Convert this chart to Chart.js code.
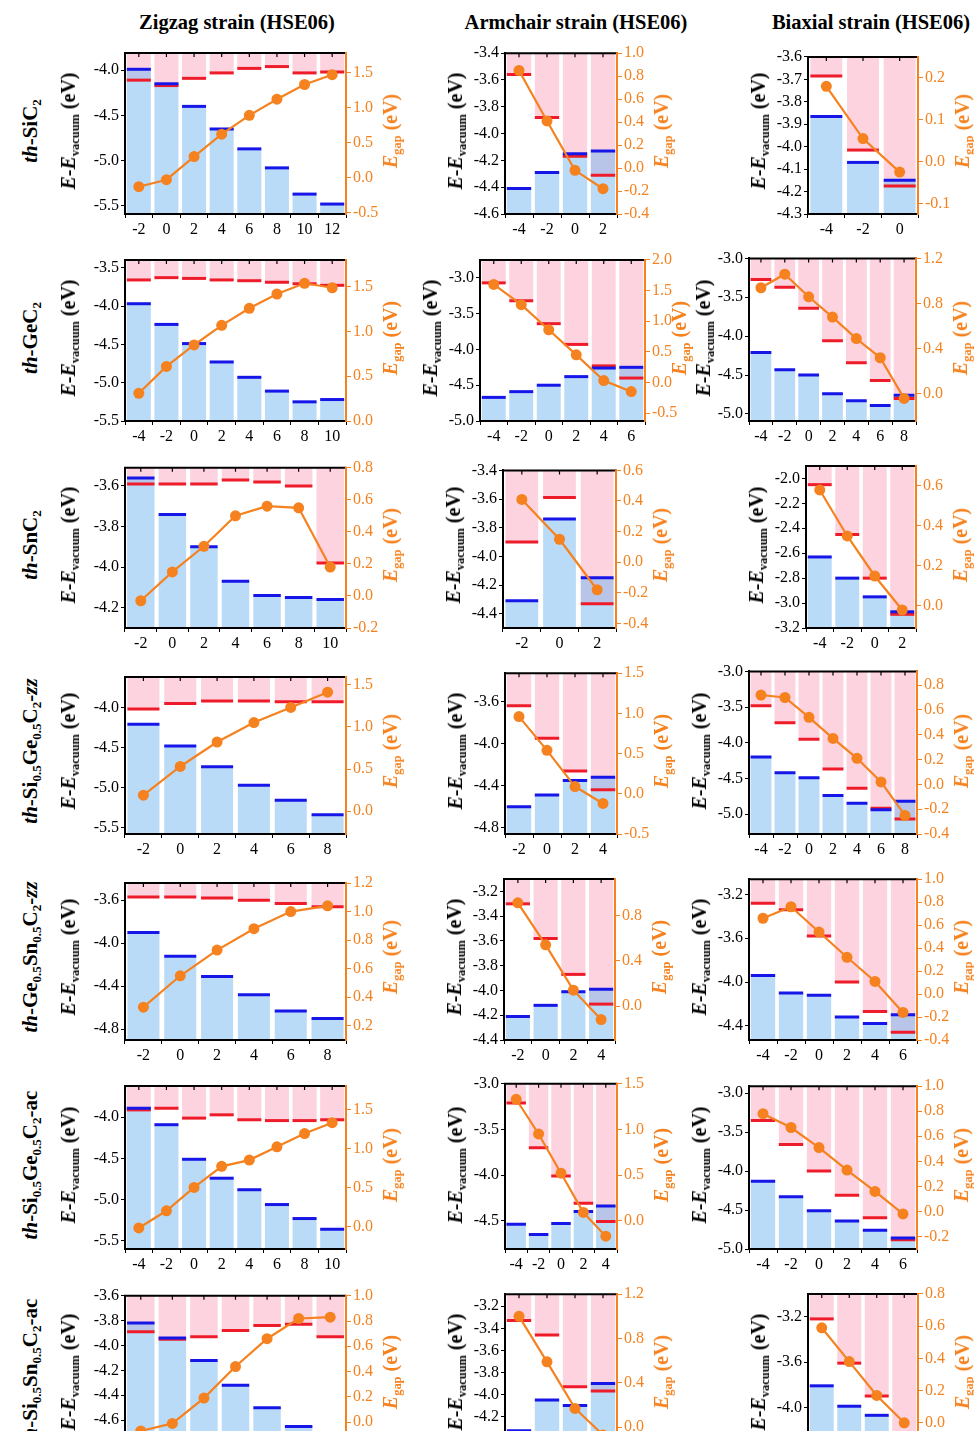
<!DOCTYPE html>
<html><head><meta charset="utf-8">
<script src="https://cdn.jsdelivr.net/npm/chart.js@4.4.0/dist/chart.umd.min.js"></script>
<style>
html,body{margin:0;padding:0;background:#fff;}
#page{position:relative;width:974px;height:1431px;overflow:hidden;font-family:'Liberation Serif','Times New Roman',serif;color:#000;}
.lbl{position:absolute;white-space:nowrap;font-weight:bold;transform:translate(-50%,-50%) rotate(-90deg);line-height:1;}
.ct{position:absolute;white-space:nowrap;font-weight:bold;font-size:20.5px;transform:translate(-50%,-50%);line-height:1;}
.s{font-size:0.62em;position:relative;top:0.32em;}
canvas{position:absolute;}
</style></head><body><div id="page"></div><script>
// ---------- DATA ----------
// th-SiC2
const SiC2_zz_strain = [-2, 0, 2, 4, 6, 8, 10, 12];
const SiC2_zz_vbm = [-3.99, -4.15, -4.40, -4.65, -4.87, -5.08, -5.37, -5.48];
const SiC2_zz_cbm = [-4.11, -4.17, -4.09, -4.03, -3.98, -3.96, -4.03, -4.02];
const SiC2_zz_gap = [-0.13, -0.03, 0.30, 0.62, 0.89, 1.12, 1.33, 1.47];
const SiC2_zz_yTicks = [-4.0, -4.5, -5.0, -5.5];
const SiC2_zz_gTicks = [-0.5, 0.0, 0.5, 1.0, 1.5];

const SiC2_ac_strain = [-4, -2, 0, 2];
const SiC2_ac_vbm = [-4.41, -4.29, -4.15, -4.13];
const SiC2_ac_cbm = [-3.56, -3.88, -4.17, -4.31];
const SiC2_ac_gap = [0.85, 0.41, -0.02, -0.18];
const SiC2_ac_yTicks = [-3.4, -3.6, -3.8, -4.0, -4.2, -4.4, -4.6];
const SiC2_ac_gTicks = [-0.4, -0.2, 0.0, 0.2, 0.4, 0.6, 0.8, 1.0];

const SiC2_bi_strain = [-4, -2, 0];
const SiC2_bi_vbm = [-3.865, -4.07, -4.15];
const SiC2_bi_cbm = [-3.685, -4.015, -4.175];
const SiC2_bi_gap = [0.18, 0.055, -0.025];
const SiC2_bi_yTicks = [-3.6, -3.7, -3.8, -3.9, -4.0, -4.1, -4.2, -4.3];
const SiC2_bi_gTicks = [-0.1, 0.0, 0.1, 0.2];

// th-GeC2
const GeC2_zz_strain = [-4, -2, 0, 2, 4, 6, 8, 10];
const GeC2_zz_vbm = [-3.97, -4.24, -4.49, -4.73, -4.93, -5.11, -5.25, -5.22];
const GeC2_zz_cbm = [-3.66, -3.63, -3.64, -3.66, -3.67, -3.69, -3.71, -3.73];
const GeC2_zz_gap = [0.31, 0.61, 0.85, 1.07, 1.26, 1.42, 1.54, 1.49];
const GeC2_zz_yTicks = [-3.5, -4.0, -4.5, -5.0, -5.5];
const GeC2_zz_gTicks = [0.0, 0.5, 1.0, 1.5];

const GeC2_ac_strain = [-4, -2, 0, 2, 4, 6];
const GeC2_ac_vbm = [-4.67, -4.59, -4.50, -4.38, -4.26, -4.25];
const GeC2_ac_cbm = [-3.07, -3.32, -3.64, -3.93, -4.23, -4.40];
const GeC2_ac_gap = [1.60, 1.27, 0.86, 0.45, 0.03, -0.15];
const GeC2_ac_yTicks = [-3.0, -3.5, -4.0, -4.5, -5.0];
const GeC2_ac_gTicks = [-0.5, 0.0, 0.5, 1.0, 1.5, 2.0];

const GeC2_bi_strain = [-4, -2, 0, 2, 4, 6, 8];
const GeC2_bi_vbm = [-4.21, -4.43, -4.50, -4.74, -4.83, -4.89, -4.76];
const GeC2_bi_cbm = [-3.27, -3.37, -3.64, -4.06, -4.34, -4.57, -4.80];
const GeC2_bi_gap = [0.94, 1.06, 0.86, 0.68, 0.49, 0.32, -0.04];
const GeC2_bi_yTicks = [-3.0, -3.5, -4.0, -4.5, -5.0];
const GeC2_bi_gTicks = [0.0, 0.4, 0.8, 1.2];

// th-SnC2
const SnC2_zz_strain = [-2, 0, 2, 4, 6, 8, 10];
const SnC2_zz_vbm = [-3.56, -3.74, -3.90, -4.07, -4.14, -4.15, -4.16];
const SnC2_zz_cbm = [-3.59, -3.59, -3.59, -3.57, -3.58, -3.60, -3.98];
const SnC2_zz_gap = [-0.03, 0.15, 0.31, 0.50, 0.56, 0.55, 0.18];
const SnC2_zz_yTicks = [-3.6, -3.8, -4.0, -4.2];
const SnC2_zz_gTicks = [-0.2, 0.0, 0.2, 0.4, 0.6, 0.8];

const SnC2_ac_strain = [-2, 0, 2];
const SnC2_ac_vbm = [-4.31, -3.74, -4.15];
const SnC2_ac_cbm = [-3.90, -3.59, -4.33];
const SnC2_ac_gap = [0.41, 0.15, -0.18];
const SnC2_ac_yTicks = [-3.4, -3.6, -3.8, -4.0, -4.2, -4.4];
const SnC2_ac_gTicks = [-0.4, -0.2, 0.0, 0.2, 0.4, 0.6];

const SnC2_bi_strain = [-4, -2, 0, 2];
const SnC2_bi_vbm = [-2.63, -2.80, -2.95, -3.07];
const SnC2_bi_cbm = [-2.05, -2.45, -2.80, -3.09];
const SnC2_bi_gap = [0.58, 0.35, 0.15, -0.02];
const SnC2_bi_yTicks = [-2.0, -2.2, -2.4, -2.6, -2.8, -3.0, -3.2];
const SnC2_bi_gTicks = [0.0, 0.2, 0.4, 0.6];

// th-Si0.5Ge0.5C2-zz
const SiGeZZ_zz_strain = [-2, 0, 2, 4, 6, 8];
const SiGeZZ_zz_vbm = [-4.21, -4.48, -4.74, -4.97, -5.16, -5.34];
const SiGeZZ_zz_cbm = [-4.02, -3.95, -3.92, -3.92, -3.93, -3.93];
const SiGeZZ_zz_gap = [0.19, 0.53, 0.82, 1.05, 1.23, 1.41];
const SiGeZZ_zz_yTicks = [-4.0, -4.5, -5.0, -5.5];
const SiGeZZ_zz_gTicks = [0.0, 0.5, 1.0, 1.5];

const SiGeZZ_ac_strain = [-2, 0, 2, 4];
const SiGeZZ_ac_vbm = [-4.60, -4.49, -4.35, -4.32];
const SiGeZZ_ac_cbm = [-3.64, -3.95, -4.26, -4.44];
const SiGeZZ_ac_gap = [0.96, 0.54, 0.09, -0.12];
const SiGeZZ_ac_yTicks = [-3.6, -4.0, -4.4, -4.8];
const SiGeZZ_ac_gTicks = [-0.5, 0.0, 0.5, 1.0, 1.5];

const SiGeZZ_bi_strain = [-4, -2, 0, 2, 4, 6, 8];
const SiGeZZ_bi_vbm = [-4.20, -4.42, -4.49, -4.74, -4.85, -4.94, -4.82];
const SiGeZZ_bi_cbm = [-3.48, -3.72, -3.95, -4.37, -4.64, -4.92, -5.07];
const SiGeZZ_bi_gap = [0.72, 0.70, 0.54, 0.37, 0.21, 0.02, -0.25];
const SiGeZZ_bi_yTicks = [-3.0, -3.5, -4.0, -4.5, -5.0];
const SiGeZZ_bi_gTicks = [-0.4, -0.2, 0.0, 0.2, 0.4, 0.6, 0.8];

// th-Ge0.5Sn0.5C2-zz
const GeSnZZ_zz_strain = [-2, 0, 2, 4, 6, 8];
const GeSnZZ_zz_vbm = [-3.90, -4.12, -4.31, -4.48, -4.63, -4.70];
const GeSnZZ_zz_cbm = [-3.57, -3.57, -3.58, -3.60, -3.63, -3.66];
const GeSnZZ_zz_gap = [0.33, 0.55, 0.73, 0.88, 1.00, 1.04];
const GeSnZZ_zz_yTicks = [-3.6, -4.0, -4.4, -4.8];
const GeSnZZ_zz_gTicks = [0.2, 0.4, 0.6, 0.8, 1.0, 1.2];

const GeSnZZ_ac_strain = [-2, 0, 2, 4];
const GeSnZZ_ac_vbm = [-4.21, -4.12, -4.01, -3.99];
const GeSnZZ_ac_cbm = [-3.30, -3.58, -3.87, -4.11];
const GeSnZZ_ac_gap = [0.91, 0.54, 0.14, -0.12];
const GeSnZZ_ac_yTicks = [-3.2, -3.4, -3.6, -3.8, -4.0, -4.2, -4.4];
const GeSnZZ_ac_gTicks = [0.0, 0.4, 0.8];

const GeSnZZ_bi_strain = [-4, -2, 0, 2, 4, 6];
const GeSnZZ_bi_vbm = [-3.94, -4.10, -4.12, -4.32, -4.38, -4.30];
const GeSnZZ_bi_cbm = [-3.28, -3.34, -3.58, -4.00, -4.27, -4.46];
const GeSnZZ_bi_gap = [0.66, 0.76, 0.54, 0.32, 0.11, -0.16];
const GeSnZZ_bi_yTicks = [-3.2, -3.6, -4.0, -4.4];
const GeSnZZ_bi_gTicks = [-0.4, -0.2, 0.0, 0.2, 0.4, 0.6, 0.8, 1.0];

// th-Si0.5Ge0.5C2-ac
const SiGeAC_zz_strain = [-4, -2, 0, 2, 4, 6, 8, 10];
const SiGeAC_zz_vbm = [-3.89, -4.09, -4.51, -4.74, -4.88, -5.06, -5.23, -5.36];
const SiGeAC_zz_cbm = [-3.91, -3.89, -4.01, -3.97, -4.03, -4.04, -4.04, -4.03];
const SiGeAC_zz_gap = [-0.02, 0.20, 0.50, 0.77, 0.85, 1.02, 1.19, 1.33];
const SiGeAC_zz_yTicks = [-4.0, -4.5, -5.0, -5.5];
const SiGeAC_zz_gTicks = [0.0, 0.5, 1.0, 1.5];

const SiGeAC_ac_strain = [-4, -2, 0, 2, 4];
const SiGeAC_ac_vbm = [-4.54, -4.65, -4.53, -4.40, -4.34];
const SiGeAC_ac_cbm = [-3.21, -3.70, -4.01, -4.31, -4.51];
const SiGeAC_ac_gap = [1.33, 0.95, 0.52, 0.09, -0.17];
const SiGeAC_ac_yTicks = [-3.0, -3.5, -4.0, -4.5];
const SiGeAC_ac_gTicks = [0.0, 0.5, 1.0, 1.5];

const SiGeAC_bi_strain = [-4, -2, 0, 2, 4, 6];
const SiGeAC_bi_vbm = [-4.13, -4.33, -4.51, -4.64, -4.76, -4.86];
const SiGeAC_bi_cbm = [-3.35, -3.66, -4.00, -4.31, -4.60, -4.88];
const SiGeAC_bi_gap = [0.78, 0.67, 0.51, 0.33, 0.16, -0.02];
const SiGeAC_bi_yTicks = [-3.0, -3.5, -4.0, -4.5, -5.0];
const SiGeAC_bi_gTicks = [-0.2, 0.0, 0.2, 0.4, 0.6, 0.8, 1.0];

// th-Si0.5Sn0.5C2-ac
const SiSnAC_zz_strain = [-4, -2, 0, 2, 4, 6, 8];
const SiSnAC_zz_vbm = [-3.82, -3.94, -4.12, -4.32, -4.50, -4.65, -4.76];
const SiSnAC_zz_cbm = [-3.89, -3.95, -3.93, -3.88, -3.84, -3.83, -3.93];
const SiSnAC_zz_gap = [-0.07, -0.01, 0.19, 0.44, 0.66, 0.82, 0.83];
const SiSnAC_zz_yTicks = [-3.6, -3.8, -4.0, -4.2, -4.4, -4.6, -4.8];
const SiSnAC_zz_gTicks = [0.0, 0.2, 0.4, 0.6, 0.8, 1.0];

const SiSnAC_ac_strain = [-4, -2, 0, 2];
const SiSnAC_ac_vbm = [-4.33, -4.05, -4.10, -3.90];
const SiSnAC_ac_cbm = [-3.33, -3.46, -3.93, -3.97];
const SiSnAC_ac_gap = [1.00, 0.59, 0.17, -0.07];
const SiSnAC_ac_yTicks = [-3.2, -3.4, -3.6, -3.8, -4.0, -4.2, -4.4];
const SiSnAC_ac_gTicks = [0.0, 0.4, 0.8, 1.2];

const SiSnAC_bi_strain = [-4, -2, 0, 2];
const SiSnAC_bi_vbm = [-3.81, -3.99, -4.07, -4.30];
const SiSnAC_bi_cbm = [-3.22, -3.61, -3.90, -4.30];
const SiSnAC_bi_gap = [0.59, 0.38, 0.17, 0.00];
const SiSnAC_bi_yTicks = [-3.2, -3.6, -4.0, -4.4];
const SiSnAC_bi_gTicks = [0.0, 0.2, 0.4, 0.6, 0.8];

const columnTitles = ['Zigzag strain (HSE06)', 'Armchair strain (HSE06)', 'Biaxial strain (HSE06)'];
const rowLabels = [
  '<i>th</i>-SiC<span class="s">2</span>',
  '<i>th</i>-GeC<span class="s">2</span>',
  '<i>th</i>-SnC<span class="s">2</span>',
  '<i>th</i>-Si<span class="s">0.5</span>Ge<span class="s">0.5</span>C<span class="s">2</span>-<i>zz</i>',
  '<i>th</i>-Ge<span class="s">0.5</span>Sn<span class="s">0.5</span>C<span class="s">2</span>-<i>zz</i>',
  '<i>th</i>-Si<span class="s">0.5</span>Ge<span class="s">0.5</span>C<span class="s">2</span>-ac',
  '<i>th</i>-Si<span class="s">0.5</span>Sn<span class="s">0.5</span>C<span class="s">2</span>-ac'
];

// ---------- LAYOUT ----------
const rowsY = [[48,214],[255,421],[461,628],[668,834],[874,1040],[1081,1249],[1289,1455]];
const colTitleX = [237, 576, 871];
const panels = [
 {row:0,col:0,x0:125,x1:346,s:SiC2_zz_strain,v:SiC2_zz_vbm,c:SiC2_zz_cbm,g:SiC2_zz_gap,yt:SiC2_zz_yTicks,gt:SiC2_zz_gTicks,yMin:-5.59,yMax:-3.81,gMin:-0.52,gMax:1.78},
 {row:0,col:1,x0:505,x1:617,s:SiC2_ac_strain,v:SiC2_ac_vbm,c:SiC2_ac_cbm,g:SiC2_ac_gap,yt:SiC2_ac_yTicks,gt:SiC2_ac_gTicks,yMin:-4.6,yMax:-3.4,gMin:-0.4,gMax:1.0},
 {row:0,col:2,x0:808,x1:918,s:SiC2_bi_strain,v:SiC2_bi_vbm,c:SiC2_bi_cbm,g:SiC2_bi_gap,yt:SiC2_bi_yTicks,gt:SiC2_bi_gTicks,yMin:-4.3,yMax:-3.6,gMin:-0.125,gMax:0.25},
 {row:1,col:0,x0:125,x1:346,s:GeC2_zz_strain,v:GeC2_zz_vbm,c:GeC2_zz_cbm,g:GeC2_zz_gap,yt:GeC2_zz_yTicks,gt:GeC2_zz_gTicks,yMin:-5.5,yMax:-3.4,gMin:0,gMax:1.8},
 {row:1,col:1,x0:480,x1:645,s:GeC2_ac_strain,v:GeC2_ac_vbm,c:GeC2_ac_cbm,g:GeC2_ac_gap,yt:GeC2_ac_yTicks,gt:GeC2_ac_gTicks,yMin:-5.0,yMax:-2.75,gMin:-0.63,gMax:2.0,rOff:34},
 {row:1,col:2,x0:749,x1:916,s:GeC2_bi_strain,v:GeC2_bi_vbm,c:GeC2_bi_cbm,g:GeC2_bi_gap,yt:GeC2_bi_yTicks,gt:GeC2_bi_gTicks,yMin:-5.09,yMax:-3.0,gMin:-0.24,gMax:1.2,lOff:46},
 {row:2,col:0,x0:125,x1:346,s:SnC2_zz_strain,v:SnC2_zz_vbm,c:SnC2_zz_cbm,g:SnC2_zz_gap,yt:SnC2_zz_yTicks,gt:SnC2_zz_gTicks,yMin:-4.3,yMax:-3.51,gMin:-0.2,gMax:0.8},
 {row:2,col:1,x0:503,x1:616,s:SnC2_ac_strain,v:SnC2_ac_vbm,c:SnC2_ac_cbm,g:SnC2_ac_gap,yt:SnC2_ac_yTicks,gt:SnC2_ac_gTicks,yMin:-4.5,yMax:-3.4,gMin:-0.43,gMax:0.6},
 {row:2,col:2,x0:806,x1:916,s:SnC2_bi_strain,v:SnC2_bi_vbm,c:SnC2_bi_cbm,g:SnC2_bi_gap,yt:SnC2_bi_yTicks,gt:SnC2_bi_gTicks,yMin:-3.2,yMax:-1.9,gMin:-0.11,gMax:0.7},
 {row:3,col:0,x0:125,x1:346,s:SiGeZZ_zz_strain,v:SiGeZZ_zz_vbm,c:SiGeZZ_zz_cbm,g:SiGeZZ_zz_gap,yt:SiGeZZ_zz_yTicks,gt:SiGeZZ_zz_gTicks,yMin:-5.58,yMax:-3.62,gMin:-0.27,gMax:1.59},
 {row:3,col:1,x0:505,x1:617,s:SiGeZZ_ac_strain,v:SiGeZZ_ac_vbm,c:SiGeZZ_ac_cbm,g:SiGeZZ_ac_gap,yt:SiGeZZ_ac_yTicks,gt:SiGeZZ_ac_gTicks,yMin:-4.86,yMax:-3.33,gMin:-0.5,gMax:1.5},
 {row:3,col:2,x0:749,x1:917,s:SiGeZZ_bi_strain,v:SiGeZZ_bi_vbm,c:SiGeZZ_bi_cbm,g:SiGeZZ_bi_gap,yt:SiGeZZ_bi_yTicks,gt:SiGeZZ_bi_gTicks,yMin:-5.28,yMax:-3.0,gMin:-0.4,gMax:0.91},
 {row:4,col:0,x0:125,x1:346,s:GeSnZZ_zz_strain,v:GeSnZZ_zz_vbm,c:GeSnZZ_zz_cbm,g:GeSnZZ_zz_gap,yt:GeSnZZ_zz_yTicks,gt:GeSnZZ_zz_gTicks,yMin:-4.9,yMax:-3.44,gMin:0.1,gMax:1.2},
 {row:4,col:1,x0:504,x1:615,s:GeSnZZ_ac_strain,v:GeSnZZ_ac_vbm,c:GeSnZZ_ac_cbm,g:GeSnZZ_ac_gap,yt:GeSnZZ_ac_yTicks,gt:GeSnZZ_ac_gTicks,yMin:-4.4,yMax:-3.1,gMin:-0.3,gMax:1.12},
 {row:4,col:2,x0:749,x1:917,s:GeSnZZ_bi_strain,v:GeSnZZ_bi_vbm,c:GeSnZZ_bi_cbm,g:GeSnZZ_bi_gap,yt:GeSnZZ_bi_yTicks,gt:GeSnZZ_bi_gTicks,yMin:-4.53,yMax:-3.06,gMin:-0.4,gMax:1.0},
 {row:5,col:0,x0:125,x1:346,s:SiGeAC_zz_strain,v:SiGeAC_zz_vbm,c:SiGeAC_zz_cbm,g:SiGeAC_zz_gap,yt:SiGeAC_zz_yTicks,gt:SiGeAC_zz_gTicks,yMin:-5.6,yMax:-3.62,gMin:-0.29,gMax:1.8},
 {row:5,col:1,x0:505,x1:617,s:SiGeAC_ac_strain,v:SiGeAC_ac_vbm,c:SiGeAC_ac_cbm,g:SiGeAC_ac_gap,yt:SiGeAC_ac_yTicks,gt:SiGeAC_ac_gTicks,yMin:-4.81,yMax:-3.0,gMin:-0.31,gMax:1.5},
 {row:5,col:2,x0:749,x1:917,s:SiGeAC_bi_strain,v:SiGeAC_bi_vbm,c:SiGeAC_bi_cbm,g:SiGeAC_bi_gap,yt:SiGeAC_bi_yTicks,gt:SiGeAC_bi_gTicks,yMin:-5.0,yMax:-2.91,gMin:-0.3,gMax:1.0},
 {row:6,col:0,x0:125,x1:346,s:SiSnAC_zz_strain,v:SiSnAC_zz_vbm,c:SiSnAC_zz_cbm,g:SiSnAC_zz_gap,yt:SiSnAC_zz_yTicks,gt:SiSnAC_zz_gTicks,yMin:-4.88,yMax:-3.6,gMin:-0.26,gMax:1.0},
 {row:6,col:1,x0:505,x1:617,s:SiSnAC_ac_strain,v:SiSnAC_ac_vbm,c:SiSnAC_ac_cbm,g:SiSnAC_ac_gap,yt:SiSnAC_ac_yTicks,gt:SiSnAC_ac_gTicks,yMin:-4.55,yMax:-3.09,gMin:-0.25,gMax:1.2},
 {row:6,col:2,x0:808,x1:918,s:SiSnAC_bi_strain,v:SiSnAC_bi_vbm,c:SiSnAC_bi_cbm,g:SiSnAC_bi_gap,yt:SiSnAC_bi_yTicks,gt:SiSnAC_bi_gTicks,yMin:-4.42,yMax:-3.0,gMin:-0.2,gMax:0.8}
];

// ---------- STYLE ----------
const ORANGE = '#f5821f';
const BLUE_BAR = 'rgba(118,184,242,0.5)';
const PINK_BAR = '#fdd3df';
const VBM_COL = '#1616e8';
const CBM_COL = '#ee1c2a';
const FONT = "'Liberation Serif', 'Times New Roman', serif";
const BAR_PCT = 0.87;
const LW = 52, RW = 44, PT = 10, XH = 28;

const page = document.getElementById('page');

const framePlugin = {
  id: 'frame',
  afterDraw(chart) {
    const {ctx, chartArea: {left, right, top, bottom}} = chart;
    ctx.save();
    ctx.lineWidth = 2;
    ctx.strokeStyle = '#000';
    ctx.beginPath();
    ctx.moveTo(right, top); ctx.lineTo(left, top); ctx.lineTo(left, bottom); ctx.lineTo(right, bottom);
    ctx.stroke();
    ctx.strokeStyle = ORANGE;
    ctx.beginPath(); ctx.moveTo(right, top - 1); ctx.lineTo(right, bottom + 1); ctx.stroke();
    ctx.strokeStyle = '#000';
    ctx.lineWidth = 1.2;
    ctx.beginPath();
    const xs = chart.scales.x;
    for (let i = 0; i < chart.data.labels.length; i++) {
      const px = xs.getPixelForValue(i);
      ctx.moveTo(px, top); ctx.lineTo(px, top + 4);
    }
    ctx.stroke();
    ctx.restore();
  }
};

function addDiv(cls, html, x, y, extra) {
  const d = document.createElement('div');
  d.className = cls;
  d.innerHTML = html;
  d.style.left = x + 'px';
  d.style.top = y + 'px';
  if (extra) Object.assign(d.style, extra);
  page.appendChild(d);
}

function makePanel(p) {
  const [y0, y1] = rowsY[p.row];
  const w = p.x1 - p.x0, h = y1 - y0;
  const cv = document.createElement('canvas');
  cv.width = LW + w + RW; cv.height = PT + h + XH;
  cv.style.left = (p.x0 - LW) + 'px';
  cv.style.top = (y0 - PT) + 'px';
  page.appendChild(cv);
  const n = p.s.length;
  const r = (w / n) * BAR_PCT / 2;
  const yMin = p.yMin, yMax = p.yMax;
  new Chart(cv, {
    type: 'bar',
    data: {
      labels: p.s.map(String),
      datasets: [
        {type: 'line', data: p.g, yAxisID: 'y2', borderColor: ORANGE, backgroundColor: ORANGE,
         borderWidth: 2.2, pointRadius: 5.5, pointHoverRadius: 5.5, pointBackgroundColor: ORANGE,
         pointBorderColor: ORANGE, pointBorderWidth: 0, order: 0},
        {type: 'line', data: p.v, yAxisID: 'y', showLine: false, pointStyle: 'line', pointRadius: r,
         pointHoverRadius: r, pointBorderColor: VBM_COL, pointBorderWidth: 3, order: 1},
        {type: 'line', data: p.c, yAxisID: 'y', showLine: false, pointStyle: 'line', pointRadius: r,
         pointHoverRadius: r, pointBorderColor: CBM_COL, pointBorderWidth: 3, order: 1},
        {type: 'bar', data: p.v.map(v => [yMin, v]), yAxisID: 'y', backgroundColor: BLUE_BAR,
         borderWidth: 0, grouped: false, barPercentage: BAR_PCT, categoryPercentage: 1, order: 2},
        {type: 'bar', data: p.c.map(c => [c, yMax]), yAxisID: 'y', backgroundColor: PINK_BAR,
         borderWidth: 0, grouped: false, barPercentage: BAR_PCT, categoryPercentage: 1, order: 3}
      ]
    },
    options: {
      responsive: false, animation: false, devicePixelRatio: 1, events: [],
      layout: {padding: {top: PT, left: 0, right: 0, bottom: 0}},
      plugins: {legend: {display: false}, tooltip: {enabled: false}},
      scales: {
        x: {
          type: 'category', offset: true,
          grid: {display: true, drawOnChartArea: false, drawTicks: true, tickLength: 4, color: '#000'},
          border: {display: true, color: '#000', width: 2},
          ticks: {font: {family: FONT, size: 16}, color: '#000', padding: 2, maxRotation: 0, autoSkip: false},
          afterFit(s) { s.height = XH; }
        },
        y: {
          position: 'left', min: p.yMin, max: p.yMax,
          afterBuildTicks(s) { s.ticks = p.yt.map(v => ({value: v})); },
          grid: {drawOnChartArea: false, drawTicks: true, tickLength: 4, color: '#000'},
          border: {display: true, color: '#000', width: 2},
          ticks: {font: {family: FONT, size: 16}, color: '#000', padding: 2, callback: v => Number(v).toFixed(1)},
          afterFit(s) { s.width = LW; }
        },
        y2: {
          position: 'right', min: p.gMin, max: p.gMax,
          afterBuildTicks(s) { s.ticks = p.gt.map(v => ({value: v})); },
          grid: {drawOnChartArea: false, drawTicks: true, tickLength: 5, color: ORANGE},
          border: {display: true, color: ORANGE, width: 2},
          ticks: {font: {family: FONT, size: 16}, color: ORANGE, padding: 2, callback: v => Number(v).toFixed(1)},
          afterFit(s) { s.width = RW; }
        }
      }
    },
    plugins: [framePlugin]
  });

  const cy = (y0 + y1) / 2;
  const leftOff = p.lOff !== undefined ? p.lOff : (p.col === 0 ? 57 : 50);
  const rightOff = p.rOff !== undefined ? p.rOff : 44;
  addDiv('lbl', '<i>E</i>-<i>E</i><span class="s">vacuum</span> (eV)', p.x0 - leftOff, cy, {fontSize: '20px'});
  addDiv('lbl', '<i>E</i><span class="s">gap</span> (eV)', p.x1 + rightOff, cy, {fontSize: '20px', color: ORANGE});
}

columnTitles.forEach((t, i) => addDiv('ct', t, colTitleX[i], 22));
rowLabels.forEach((t, i) => {
  const [y0, y1] = rowsY[i];
  addDiv('lbl', t, 30, (y0 + y1) / 2, {fontSize: '21px'});
});
panels.forEach(makePanel);
</script></body></html>
